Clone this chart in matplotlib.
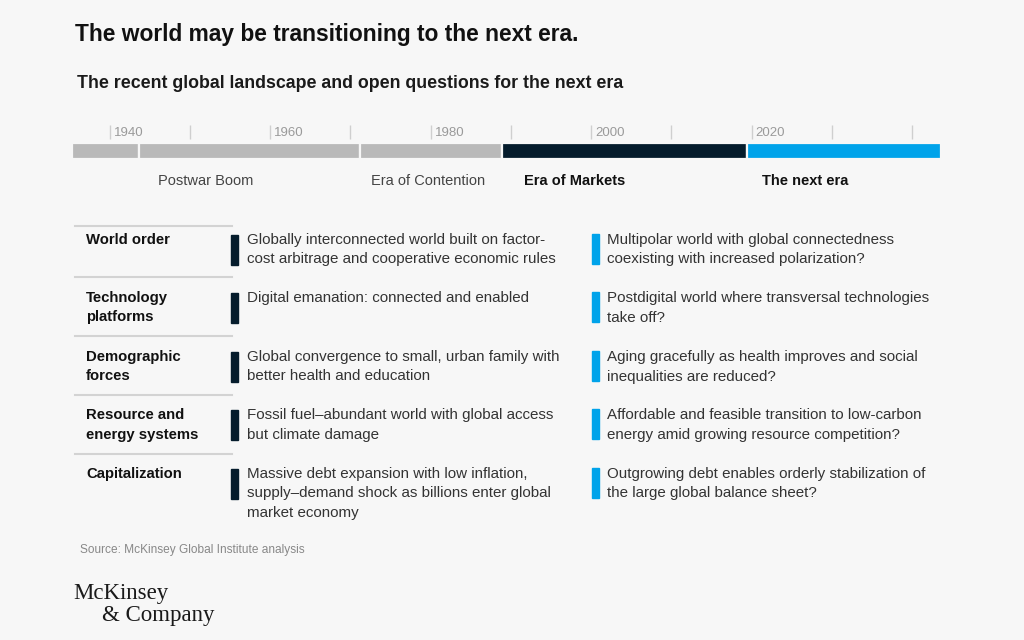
import matplotlib.pyplot as plt
from matplotlib.patches import Rectangle

# timeline data
era_names = ['', 'Postwar Boom', 'Era of Contention', 'Era of Markets', 'The next era']
era_start = [1935.3, 1943.6, 1971.2, 1988.9, 2019.4]
era_end = [1943.6, 1971.2, 1988.9, 2019.4, 2043.6]
era_label_at = [None, 1951.9, 1979.7, 1997.9, 2026.7]
decades = [1940, 1950, 1960, 1970, 1980, 1990, 2000, 2010, 2020, 2030, 2040]
decade_labels = ['1940', '', '1960', '', '1980', '', '2000', '', '2020', '', '']

# table data
row_names = ['World order', 'Technology\nplatforms', 'Demographic\nforces',
             'Resource and\nenergy systems', 'Capitalization']
past_text = [
    'Globally interconnected world built on factor-\ncost arbitrage and cooperative economic rules',
    'Digital emanation: connected and enabled',
    'Global convergence to small, urban family with\nbetter health and education',
    'Fossil fuel\u2013abundant world with global access\nbut climate damage',
    'Massive debt expansion with low inflation,\nsupply\u2013demand shock as billions enter global\nmarket economy',
]
next_text = [
    'Multipolar world with global connectedness\ncoexisting with increased polarization?',
    'Postdigital world where transversal technologies\ntake off?',
    'Aging gracefully as health improves and social\ninequalities are reduced?',
    'Affordable and feasible transition to low-carbon\nenergy amid growing resource competition?',
    'Outgrowing debt enables orderly stabilization of\nthe large global balance sheet?',
]

bg = '#f7f7f7'
gray = '#b9b9b9'
navy = '#051c2c'
blue = '#00a3ea'
era_colors = [gray, gray, gray, navy, blue]
era_bold = [False, False, False, True, True]

plt.rcParams['font.family'] = ['Liberation Sans', 'DejaVu Sans']

fig = plt.figure(figsize=(10.24, 6.4), dpi=100, facecolor=bg)

# overlay axes in pixel units
ax = fig.add_axes([0, 0, 1, 1])
ax.set_xlim(0, 1024)
ax.set_ylim(640, 0)
ax.axis('off')
ax.set_facecolor(bg)

ax.text(75, 35, 'The world may be transitioning to the next era.', fontsize=16.4,
        fontweight='bold', color='#111111', va='center')
ax.text(77, 83, 'The recent global landscape and open questions for the next era',
        fontsize=12.8, fontweight='bold', color='#1a1a1a', va='center')

# timeline axes in years
tl = fig.add_axes([72 / 1024, 1 - 162 / 640, (941 - 72) / 1024, 44 / 640])
tl.set_xlim(era_start[0], era_end[-1])
tl.set_ylim(162, 118)
tl.axis('off')
tl.barh([150.8] * len(era_start), [e - s for s, e in zip(era_start, era_end)],
        left=era_start, height=16.5, color=era_colors, edgecolor=bg, linewidth=1.6)
tl.vlines(decades, 125, 139, color='#cfcfcf', linewidth=1)
for d, lab in zip(decades, decade_labels):
    if lab:
        tl.text(d + 0.5, 133, lab, fontsize=9.5, color='#9a9a9a', va='center',
                ha='left')

for name, pos, bold in zip(era_names, era_label_at, era_bold):
    if name:
        ax.text(72 + (pos - era_start[0]) / (era_end[-1] - era_start[0]) * (941 - 72), 181,
                name, fontsize=10.5, ha='center', va='center',
                fontweight='bold' if bold else 'normal',
                color='#111111' if bold else '#444444')

# table
sep_y = [226, 277, 336, 395, 454]
row_y = [240, 298, 357, 415, 474]
pitch = 19.5
for i, (name, past, nxt) in enumerate(zip(row_names, past_text, next_text)):
    ax.plot([75, 232], [sep_y[i], sep_y[i]], color='#d3d3d3', linewidth=1.5)
    for j, line in enumerate(name.split('\n')):
        ax.text(86, row_y[i] + j * pitch, line, fontsize=10.7, fontweight='bold',
                color='#111111', va='center')
    ax.add_patch(Rectangle((231, row_y[i] - 5.5), 7, 30.5, color=navy))
    for j, line in enumerate(past.split('\n')):
        ax.text(247, row_y[i] + j * pitch, line, fontsize=10.9, color='#333333', va='center')
    ax.add_patch(Rectangle((591.5, row_y[i] - 6.5), 7, 30.5, color=blue))
    for j, line in enumerate(nxt.split('\n')):
        ax.text(607, row_y[i] + j * pitch, line, fontsize=10.9, color='#333333', va='center')

ax.text(80, 550, 'Source: McKinsey Global Institute analysis', fontsize=8.6,
        color='#888888', va='center')
ax.text(73, 594, 'McKinsey', fontsize=16.5, family=['Liberation Serif', 'DejaVu Serif'],
        color='#1a1a1a', va='center')
ax.text(102, 616, '& Company', fontsize=16.5, family=['Liberation Serif', 'DejaVu Serif'],
        color='#1a1a1a', va='center')

fig.savefig('out.png', dpi=100, facecolor=bg)
